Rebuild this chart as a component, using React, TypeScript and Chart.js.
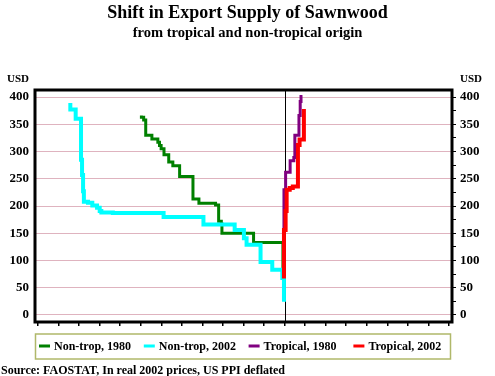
import React, { useEffect, useRef } from "react";
import { Chart, registerables } from "chart.js";

Chart.register(...registerables);

const FONT = "'Liberation Serif', 'Times New Roman', serif";

const TITLE = "Shift in Export Supply of Sawnwood";
const SUBTITLE = "from tropical and non-tropical origin";
const SOURCE = "Source: FAOSTAT, In real 2002 prices, US PPI deflated";
const UNIT = "USD";

const seriesLabels = ["Non-trop, 1980", "Non-trop, 2002", "Tropical, 1980", "Tropical, 2002"];
const seriesColors = ["#008000", "#00FFFF", "#800080", "#FF0000"];

// cumulative quantity (non-tropical plotted to the left of zero) and price, USD
const nonTrop1980Qty = [-6.97, -6.86, -6.76, -6.46, -6.17, -6.09, -6.01, -5.87, -5.64, -5.44, -5.11, -4.46, -4.17, -3.36, -3.21, -3.08, -3.05, -1.51, -0.08, -0.08];
const nonTrop1980Price = [366, 363, 358, 330, 323, 317, 311, 305, 294, 281, 274, 254, 213, 205, 202, 172, 167, 150, 133, 80];

const nonTrop2002Qty = [-10.43, -10.17, -9.91, -9.86, -9.81, -9.77, -9.57, -9.36, -9.13, -9.0, -8.92, -8.36, -5.89, -3.95, -2.43, -1.98, -1.85, -1.17, -0.6, -0.11, -0.03, -0.03];
const nonTrop2002Price = [389, 377, 360, 285, 257, 227, 208, 206, 201, 197, 191, 188, 187, 180, 166, 156, 141, 129, 97, 83, 68, 24];

const trop1980Qty = [-0.03, -0.03, 0.05, 0.27, 0.45, 0.5, 0.7, 0.76, 0.8, 0.87];
const trop1980Price = [155, 193, 230, 262, 283, 289, 330, 366, 392, 401];

const trop2002Qty = [-0.03, 0.05, 0.1, 0.25, 0.4, 0.65, 0.73, 0.94, 0.94];
const trop2002Price = [67, 156, 191, 230, 233, 236, 312, 322, 378];

const yTicks = [0, 50, 100, 150, 200, 250, 300, 350, 400];
const yMinorTicks = [0, 25, 50, 75, 100, 125, 150, 175, 200, 225, 250, 275, 300, 325, 350, 375, 400];
const X_MIN = -12.15;
const X_MAX = 8.15;
const Y_MIN = -13;
const Y_MAX = 413;

const seriesQty = [nonTrop1980Qty, nonTrop2002Qty, trop1980Qty, trop2002Qty];
const seriesPrice = [nonTrop1980Price, nonTrop2002Price, trop1980Price, trop2002Price];
const seriesWidths = [3, 4, 3, 4];
const seriesOrder = [3, 2, 1, 0];

const decorPlugin = {
  id: "decor",
  beforeDatasetsDraw(chart: any) {
    const { ctx, chartArea, scales } = chart;
    const x0 = scales.x.getPixelForValue(0);
    ctx.save();
    ctx.strokeStyle = "#000";
    ctx.lineWidth = 1;
    ctx.beginPath();
    ctx.moveTo(Math.round(x0) + 0.5, chartArea.top);
    ctx.lineTo(Math.round(x0) + 0.5, chartArea.bottom);
    ctx.stroke();
    ctx.restore();
  },
  afterDraw(chart: any) {
    const { ctx, chartArea } = chart;
    ctx.save();
    // frame
    ctx.strokeStyle = "#000";
    ctx.lineWidth = 3;
    ctx.strokeRect(chartArea.left, chartArea.top, chartArea.right - chartArea.left, chartArea.bottom - chartArea.top);

    // unit labels
    ctx.fillStyle = "#000";
    ctx.font = `bold 11px ${FONT}`;
    ctx.textBaseline = "middle";
    ctx.textAlign = "right";
    ctx.fillText(UNIT, 29, 79);
    ctx.textAlign = "left";
    ctx.fillText(UNIT, 460, 79);

    // legend box
    const lx = 35.5, ly = 334, lw = 415, lh = 25;
    ctx.strokeStyle = "#b0b86a";
    ctx.lineWidth = 1.5;
    ctx.strokeRect(lx, ly, lw, lh);
    ctx.font = `bold 12px ${FONT}`;
    ctx.textAlign = "left";
    chart.data.datasets.forEach((ds: any, i: number) => {
      const sx = 39 + i * 104.8;
      ctx.fillStyle = ds.borderColor;
      ctx.fillRect(sx, 344.5, 11, 3);
      ctx.fillStyle = "#000";
      ctx.fillText(ds.label, sx + 15, 347);
    });

    // source
    ctx.font = `bold 12px ${FONT}`;
    ctx.fillText(SOURCE, 1, 371);
    ctx.restore();
  },
};

export default function App() {
  const canvasRef = useRef<HTMLCanvasElement | null>(null);

  useEffect(() => {
    document.body.style.margin = "0";
    const canvas = canvasRef.current;
    if (!canvas) return;

    const datasets = seriesLabels.map((label, i) => ({
      label,
      data: seriesQty[i].map((q, j) => ({ x: q, y: seriesPrice[i][j] })),
      borderColor: seriesColors[i],
      backgroundColor: seriesColors[i],
      borderWidth: seriesWidths[i],
      showLine: true,
      stepped: "after" as const,
      pointRadius: 0,
      fill: false,
      order: seriesOrder[i],
      yAxisID: "y",
    }));

    const tickFont = { family: FONT, size: 13, weight: "bold" as const };

    const chart = new Chart(canvas, {
      type: "scatter",
      data: { datasets },
      options: {
        animation: false,
        responsive: false,
        maintainAspectRatio: false,
        layout: { padding: 0 },
        plugins: {
          legend: { display: false },
          tooltip: { enabled: false },
          title: {
            display: true,
            text: TITLE,
            color: "#000",
            font: { family: FONT, size: 18, weight: "bold", lineHeight: 1.2 },
            padding: { top: 2.6, bottom: 0 },
          },
          subtitle: {
            display: true,
            text: SUBTITLE,
            color: "#000",
            font: { family: FONT, size: 14.5, weight: "bold", lineHeight: 1.2 },
            padding: { top: 0, bottom: 48.4 },
          },
        },
        scales: {
          x: {
            type: "linear",
            min: X_MIN,
            max: X_MAX,
            afterBuildTicks: (scale: any) => {
              const t = [];
              for (let v = -12; v <= 8; v++) t.push({ value: v });
              scale.ticks = t;
            },
            afterFit: (scale: any) => {
              scale.height = 54;
            },
            ticks: { display: false },
            grid: { drawOnChartArea: false, drawTicks: true, tickLength: 4, color: "#000", lineWidth: 1.5 },
            border: { display: false },
          },
          y: {
            type: "linear",
            position: "left",
            min: Y_MIN,
            max: Y_MAX,
            afterBuildTicks: (scale: any) => {
              scale.ticks = yTicks.map((v) => ({ value: v }));
            },
            afterFit: (scale: any) => {
              scale.width = 35;
            },
            ticks: { color: "#000", font: tickFont, padding: 6 },
            grid: { color: "#dfb3bf", lineWidth: 1, drawTicks: false },
            border: { display: false },
          },
          y2: {
            type: "linear",
            position: "right",
            min: Y_MIN,
            max: Y_MAX,
            afterBuildTicks: (scale: any) => {
              scale.ticks = yMinorTicks.map((v) => ({ value: v }));
            },
            afterFit: (scale: any) => {
              scale.width = 43;
            },
            ticks: {
              color: "#000",
              font: tickFont,
              padding: 4,
              autoSkip: false,
              callback: (v: any) => (yTicks.includes(Number(v)) ? String(v) : ""),
            },
            grid: { drawOnChartArea: false, drawTicks: true, tickLength: 4, color: "#000", lineWidth: 1 },
            border: { display: false },
          },
        },
      },
      plugins: [decorPlugin],
    } as any);

    return () => chart.destroy();
  }, []);

  return (
    <div style={{ width: 495, height: 376, background: "#fff" }}>
      <canvas ref={canvasRef} width={495} height={376} style={{ display: "block" }} />
    </div>
  );
}
